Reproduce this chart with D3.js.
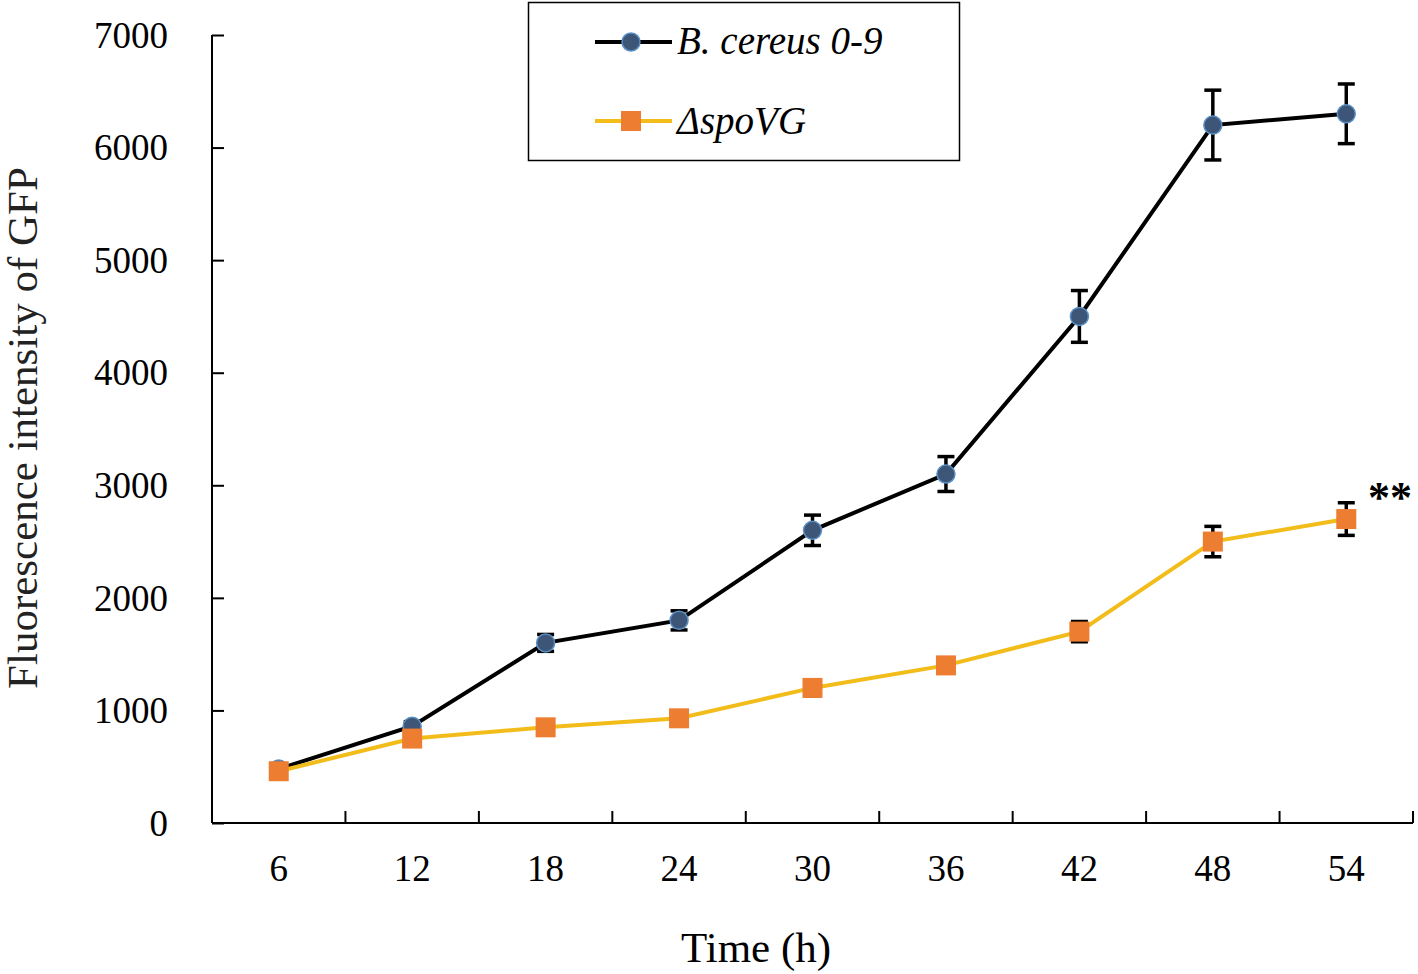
<!DOCTYPE html>
<html><head><meta charset="utf-8">
<script src="https://cdn.jsdelivr.net/npm/d3@7/dist/d3.min.js"></script>
<style>body{margin:0;background:#fff}svg{display:block}</style>
</head><body>
<svg id="c" width="1418" height="974"></svg>
<script>
const categories = ["6","12","18","24","30","36","42","48","54"];
const wtValues   = [480, 860, 1600, 1800, 2600, 3100, 4500, 6200, 6300];
const wtErrors   = [30, 40, 75, 85, 135, 155, 230, 310, 265];
const mutValues  = [460, 750, 850, 930, 1200, 1400, 1700, 2500, 2700];
const mutErrors  = [25, 35, 40, 45, 70, 65, 90, 135, 145];
const yTicks     = [0,1000,2000,3000,4000,5000,6000,7000];
const seriesNames = ["B. cereus 0-9", "\u0394spoVG"];

const svg = d3.select("#c");
const font = "'Liberation Serif','Times New Roman',serif";
const L=212, R=1413, T=35, B=823;
const x = d3.scaleBand().domain(categories).range([L,R]);
const y = d3.scaleLinear().domain([0,7000]).range([B,T]);
const cx = d => x(d)+x.bandwidth()/2;

// axes
const yAx = svg.append("g").attr("transform",`translate(${L},0)`)
  .call(d3.axisLeft(y).tickValues(yTicks).tickFormat(d3.format("d")).tickSize(-12).tickPadding(44).tickSizeOuter(0));
const xAx = svg.append("g").attr("transform",`translate(0,${B})`)
  .call(d3.axisBottom(x).tickSize(0).tickPadding(32));
// inward ticks at band boundaries
const bounds = categories.slice(1).map(c=>x(c)).concat([R]);
svg.append("g").selectAll("line").data(bounds).join("line")
  .attr("x1",d=>d).attr("x2",d=>d).attr("y1",B).attr("y2",B-12)
  .attr("stroke","#000").attr("stroke-width",2);
[yAx,xAx].forEach(g=>{
  g.attr("font-size",37).attr("font-family",font);
  g.selectAll("path.domain").attr("stroke","#000").attr("stroke-width",2);
  g.selectAll(".tick line").attr("stroke","#000").attr("stroke-width",2);
  g.selectAll("text").attr("font-family",font).attr("font-size",37).attr("fill","#000");
});
xAx.select("path.domain").attr("d",`M${L},0H${R}`);
yAx.select("path.domain").attr("d",`M0,${B}V${T}H-0`);
yAx.selectAll(".tick text").attr("dy","0.33em");

// titles
svg.append("text").attr("x",756).attr("y",962).attr("text-anchor","middle")
  .attr("font-family",font).attr("font-size",43).text("Time (h)");
svg.append("text").attr("transform","translate(37,428) rotate(-90)").attr("text-anchor","middle")
  .attr("font-family",font).attr("font-size",43).attr("fill","#222").text("Fluorescence intensity of GFP");

const line = d3.line().x((d,i)=>cx(categories[i])).y(d=>y(d));

function errBars(vals, errs){
  const g = svg.append("g").attr("stroke","#000").attr("stroke-width",3.5);
  vals.forEach((v,i)=>{
    const xx=cx(categories[i]);
    g.append("line").attr("x1",xx).attr("x2",xx).attr("y1",y(v+errs[i])).attr("y2",y(v-errs[i]));
    [v+errs[i],v-errs[i]].forEach(e=>g.append("line").attr("x1",xx-8.5).attr("x2",xx+8.5).attr("y1",y(e)).attr("y2",y(e)));
  });
}
errBars(wtValues, wtErrors);
errBars(mutValues, mutErrors);

// black series
svg.append("path").datum(wtValues).attr("d",line).attr("fill","none").attr("stroke","#000").attr("stroke-width",4);
svg.append("g").selectAll("circle").data(wtValues).join("circle")
  .attr("cx",(d,i)=>cx(categories[i])).attr("cy",d=>y(d)).attr("r",9)
  .attr("fill","#3d5677").attr("stroke","#5b8fc4").attr("stroke-width",1.5);
// orange series
svg.append("path").datum(mutValues).attr("d",line).attr("fill","none").attr("stroke","#f2bc1b").attr("stroke-width",4);
svg.append("g").selectAll("rect").data(mutValues).join("rect")
  .attr("x",(d,i)=>cx(categories[i])-10).attr("y",d=>y(d)-10).attr("width",20).attr("height",20)
  .attr("fill","#ed7d31");

// significance
svg.append("text").attr("x",1368).attr("y",512).attr("font-family",font).attr("font-size",44).attr("font-weight","bold")
  .text("**");

// legend
const lg = svg.append("g");
lg.append("rect").attr("x",528.5).attr("y",2.5).attr("width",431).attr("height",158)
  .attr("fill","#fff").attr("stroke","#000").attr("stroke-width",1.5);
lg.append("line").attr("x1",595).attr("x2",672).attr("y1",42).attr("y2",42).attr("stroke","#000").attr("stroke-width",4);
lg.append("circle").attr("cx",631).attr("cy",42).attr("r",9).attr("fill","#3d5677").attr("stroke","#5b8fc4").attr("stroke-width",1.5);
lg.append("line").attr("x1",595).attr("x2",672).attr("y1",121).attr("y2",121).attr("stroke","#f2bc1b").attr("stroke-width",4);
lg.append("rect").attr("x",621).attr("y",111).attr("width",20).attr("height",20).attr("fill","#ed7d31");
lg.append("text").attr("x",677).attr("y",54).attr("font-family",font).attr("font-style","italic").attr("font-size",39).text(seriesNames[0]);
lg.append("text").attr("x",677).attr("y",134).attr("font-family",font).attr("font-style","italic").attr("font-size",39).text(seriesNames[1]);
</script>
</body></html>
